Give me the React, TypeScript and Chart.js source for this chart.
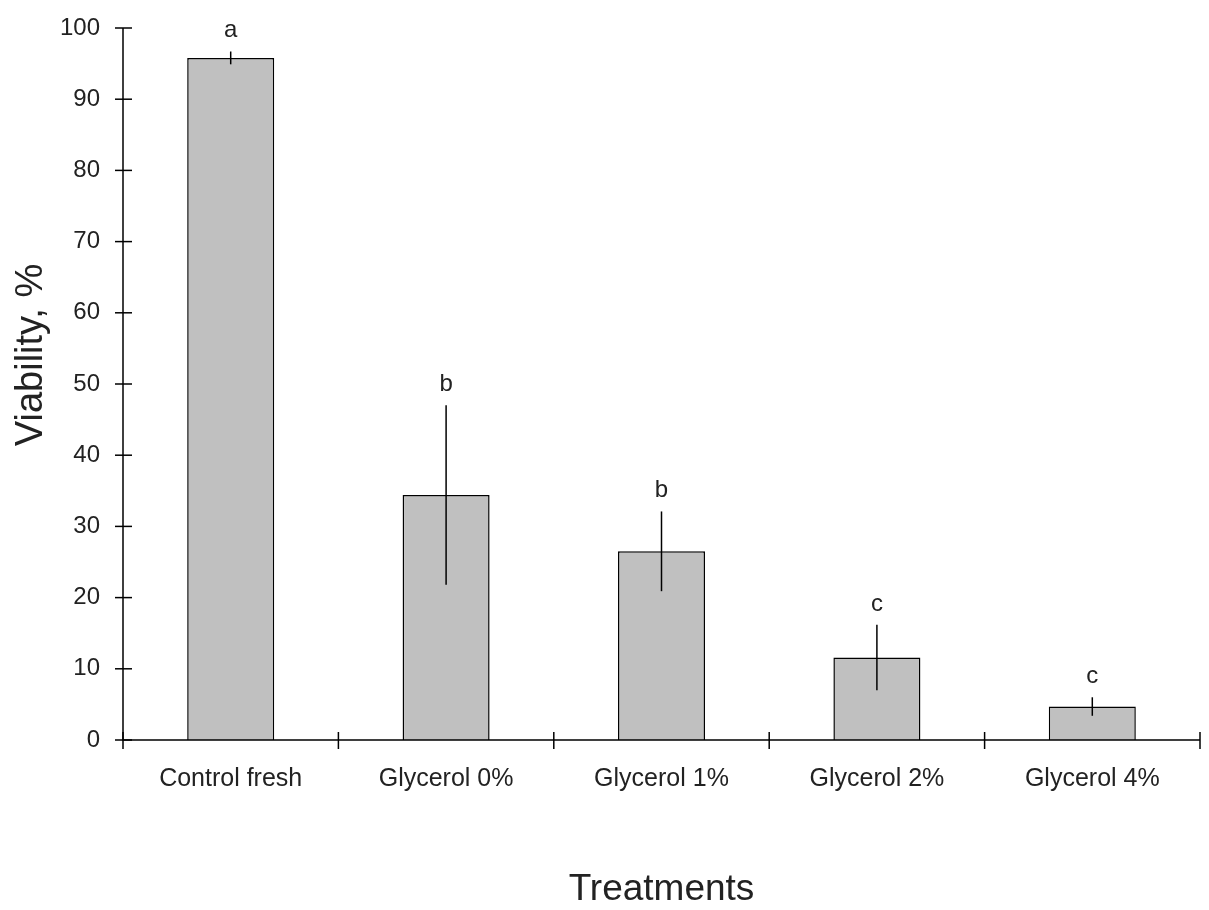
import React, { useEffect, useRef } from "react";
import { Chart, registerables } from "chart.js";

Chart.register(...registerables);

const categories = ["Control fresh", "Glycerol 0%", "Glycerol 1%", "Glycerol 2%", "Glycerol 4%"];
const viability = [95.8, 34.4, 26.5, 11.6, 4.7];
const errors = [0.9, 12.6, 5.6, 4.6, 1.3];
const letters = ["a", "b", "b", "c", "c"];
const yMin = 0;
const yMax = 100;
const yStep = 10;
const yTitle = "Viability, %";
const xTitle = "Treatments";

const FONT = "'Liberation Sans', Arial, sans-serif";
const TEXT = "#222222";

const overlayPlugin = {
  id: "overlay",
  afterDatasetsDraw(chart: any) {
    const { ctx, scales } = chart;
    const x = scales.x;
    const y = scales.y;
    ctx.save();
    ctx.strokeStyle = "#000";
    ctx.lineWidth = 1.5;
    ctx.fillStyle = TEXT;
    ctx.font = `24px ${FONT}`;
    ctx.textAlign = "center";
    ctx.textBaseline = "alphabetic";
    viability.forEach((v, i) => {
      const px = x.getPixelForValue(i);
      const top = y.getPixelForValue(v + errors[i]);
      const bot = y.getPixelForValue(v - errors[i]);
      ctx.beginPath();
      ctx.moveTo(px, top);
      ctx.lineTo(px, bot);
      ctx.stroke();
      ctx.fillText(letters[i], px, top - 14);
    });
    ctx.restore();
  },
  afterDraw(chart: any) {
    const { ctx, scales, chartArea } = chart;
    const x = scales.x;
    const y = scales.y;
    ctx.save();
    ctx.strokeStyle = "#000";
    ctx.lineWidth = 1.5;
    ctx.beginPath();
    ctx.moveTo(chartArea.left, chartArea.top);
    ctx.lineTo(chartArea.left, chartArea.bottom);
    ctx.lineTo(chartArea.right, chartArea.bottom);
    ctx.stroke();
    for (let v = yMin; v <= yMax; v += yStep) {
      const py = y.getPixelForValue(v);
      ctx.beginPath();
      ctx.moveTo(chartArea.left - 8, py);
      ctx.lineTo(chartArea.left + 9, py);
      ctx.stroke();
    }
    for (let i = 0; i <= categories.length; i++) {
      const px = x.getPixelForValue(i - 0.5);
      ctx.beginPath();
      ctx.moveTo(px, chartArea.bottom - 8);
      ctx.lineTo(px, chartArea.bottom + 9);
      ctx.stroke();
    }
    ctx.fillStyle = TEXT;
    ctx.font = `38px ${FONT}`;
    ctx.textAlign = "center";
    ctx.textBaseline = "alphabetic";
    ctx.translate(42, 355);
    ctx.rotate(-Math.PI / 2);
    ctx.fillText(yTitle, 0, 0);
    ctx.restore();
  },
};

export default function App() {
  const ref = useRef<HTMLCanvasElement>(null);
  useEffect(() => {
    if (!ref.current) return;
    const chart = new Chart(ref.current, {
      type: "bar",
      data: {
        labels: categories,
        datasets: [
          {
            data: viability,
            backgroundColor: "#c0c0c0",
            borderColor: "#000",
            borderWidth: 1.5,
            barPercentage: 0.404,
            categoryPercentage: 1,
          },
        ],
      },
      options: {
        responsive: false,
        animation: false,
        devicePixelRatio: 1,
        layout: { padding: { left: 0, right: 9, top: 28, bottom: 0 } },
        plugins: { legend: { display: false }, tooltip: { enabled: false } },
        scales: {
          x: {
            grid: { display: false, drawTicks: false },
            border: { display: false },
            ticks: {
              color: TEXT,
              font: { family: FONT, size: 25 },
              padding: 24,
              maxRotation: 0,
              autoSkip: false,
            },
            title: {
              display: true,
              text: xTitle,
              color: TEXT,
              font: { family: FONT, size: 37, lineHeight: 1 },
              padding: { top: 0, bottom: 1.5 },
            },
            afterFit: (s: any) => {
              s.height = 170;
            },
          },
          y: {
            min: yMin,
            max: yMax,
            grid: { display: false, drawTicks: false },
            border: { display: false },
            ticks: {
              stepSize: yStep,
              color: TEXT,
              font: { family: FONT, size: 24 },
              padding: 23,
            },
            afterFit: (s: any) => {
              s.width = 123;
              s.paddingTop = 0;
              s.paddingBottom = 0;
            },
          },
        },
      },
      plugins: [overlayPlugin],
    });
    return () => chart.destroy();
  }, []);
  return (
    <div style={{ position: "absolute", left: 0, top: 0, width: 1209, height: 910, background: "#fff" }}>
      <canvas ref={ref} width={1209} height={910} style={{ width: 1209, height: 910 }} />
    </div>
  );
}
